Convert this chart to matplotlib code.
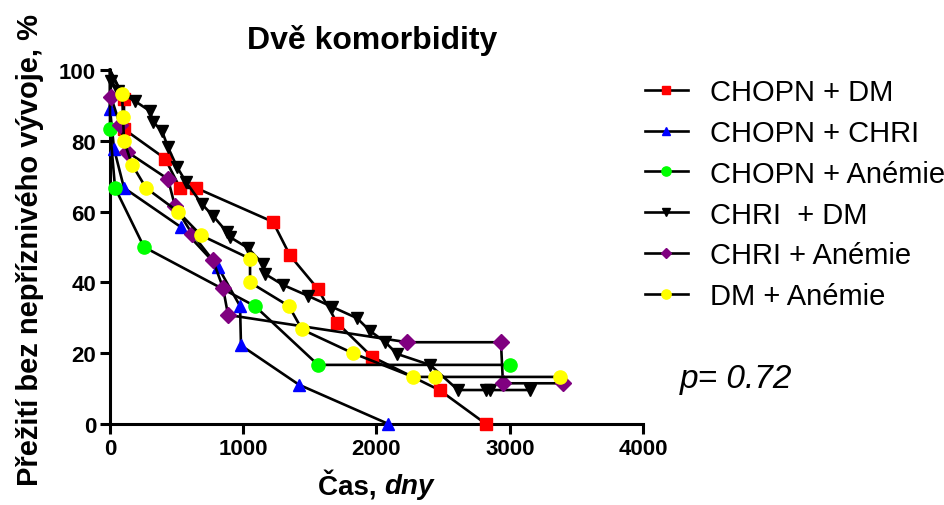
import matplotlib
matplotlib.use("Agg")
import matplotlib.pyplot as plt

plt.rcParams["font.family"] = ["Liberation Sans", "DejaVu Sans"]

# (time in days, survival in %)
red_t = [0, 105, 105, 413, 525, 645, 1223, 1351, 1561, 1704, 1966, 2476, 2822]
red_v = [100, 91.7, 83.3, 75.0, 66.7, 66.7, 57.1, 47.6, 38.1, 28.6, 19.0, 9.5, 0]

blue_t = [0, 0, 30, 105, 533, 810, 976, 983, 1418, 2090]
blue_v = [100, 88.9, 77.8, 66.7, 55.6, 44.4, 33.3, 22.2, 11.1, 0]

green_t = [0, 0, 38, 255, 1088, 1561, 3000]
green_v = [100, 83.3, 66.7, 50.0, 33.3, 16.7, 16.7]

black_t = [0, 10, 60, 188, 300, 323, 390, 435, 503, 570, 690, 773, 878, 900,
           1036, 1148, 1163, 1298, 1486, 1666, 1854, 1951, 2064, 2154, 2401,
           2612, 2822, 2852, 3152]
black_v = [100, 97, 94, 91.2, 88.4, 85.3, 82.8, 78.2, 72.6, 68.4, 62.1, 58.8,
           54.2, 52.8, 49.7, 45.2, 42.4, 39.3, 36.2, 33.1, 29.9, 26.3, 23.2,
           19.8, 16.7, 9.6, 9.6, 9.6, 9.6]

purple_t = [0, 8, 75, 128, 435, 488, 615, 773, 848, 886, 2229, 2934, 2949, 3400]
purple_v = [100, 92.3, 84.6, 76.9, 69.2, 61.5, 53.8, 46.2, 38.5, 30.8, 23.1,
            23.1, 11.5, 11.5]

yellow_t = [0, 90, 98, 105, 165, 270, 510, 683, 1051, 1051, 1343, 1441, 1823,
            2274, 2439, 3377]
yellow_v = [100, 93.3, 86.7, 80.0, 73.3, 66.7, 60.0, 53.3, 46.7, 40.0, 33.3,
            26.7, 20.0, 13.3, 13.3, 13.3]

series = [
    ("CHOPN + DM", red_t, red_v, "#ff0000", "s", 9),
    ("CHOPN + CHRI", blue_t, blue_v, "#0000ff", "^", 9),
    ("CHOPN + Anémie", green_t, green_v, "#00ff00", "o", 9.5),
    ("CHRI  + DM", black_t, black_v, "#000000", "v", 8.5),
    ("CHRI + Anémie", purple_t, purple_v, "#800080", "D", 8),
    ("DM + Anémie", yellow_t, yellow_v, "#ffff00", "o", 9.5),
]

fig = plt.figure(figsize=(9.45, 5.06), dpi=100)
ax = fig.add_axes([110 / 945, 1 - 425 / 506, 533 / 945, 354 / 506])

for label, t, v, color, marker, ms in series:
    ax.plot(t, v, color="black", linewidth=1.9, marker=marker, markersize=ms,
            markerfacecolor=color, markeredgecolor=color,
            markevery=slice(1, None), label=label, clip_on=False, zorder=3)

ax.set_xlim(0, 4000)
ax.set_ylim(0, 100)
ax.set_xticks([0, 1000, 2000, 3000, 4000])
ax.set_yticks([0, 20, 40, 60, 80, 100])
for side in ("top", "right"):
    ax.spines[side].set_visible(False)
for side in ("left", "bottom"):
    ax.spines[side].set_linewidth(2.2)
ax.tick_params(width=2.2, length=7, labelsize=16, pad=3)
for lab in ax.get_xticklabels() + ax.get_yticklabels():
    lab.set_fontweight("bold")

fig.text(372 / 945, 1 - 40 / 506, "Dvě komorbidity", ha="center", va="center",
         fontsize=23, fontweight="bold")
fig.text(30 / 945, 1 - 250 / 506, "Přežití bez nepříznivého vývoje, %",
         rotation=90, ha="center", va="center", fontsize=21, fontweight="bold")

fig.text(384 / 945, 1 - 487 / 506, "Čas, ", ha="right", va="center",
         fontsize=20, fontweight="bold")
fig.text(384 / 945, 1 - 487 / 506, "dny", ha="left", va="center",
         fontsize=20, fontweight="bold", style="italic")

fig.text(680 / 945, 1 - 380 / 506, "p= 0.72", ha="left", va="center",
         fontsize=24, style="italic")

ax.legend(loc="upper left", bbox_to_anchor=(645 / 945, 1 - 79 / 506),
          bbox_transform=fig.transFigure, frameon=False, fontsize=21,
          handlelength=1.47, handletextpad=0.75, labelspacing=0.44,
          borderpad=0, borderaxespad=0, markerscale=0.7)

fig.savefig("out.png", dpi=100)
